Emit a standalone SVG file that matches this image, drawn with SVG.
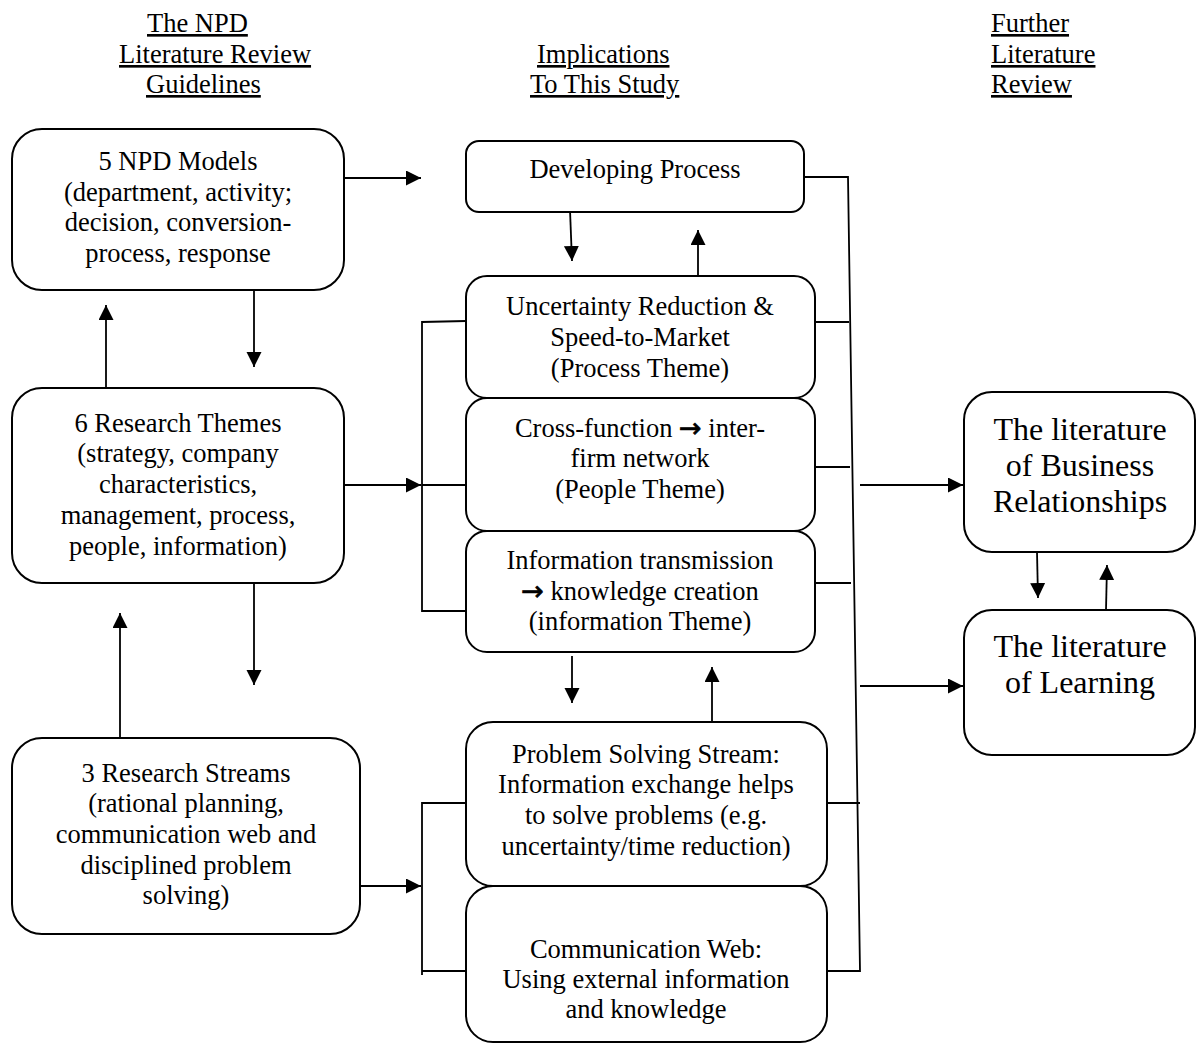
<svg xmlns="http://www.w3.org/2000/svg" width="1202" height="1045" viewBox="0 0 1202 1045">
  <style>
    text { font-family: "Liberation Serif", "Times New Roman", serif; fill: #000; }
    .hd { font-size: 26.5px; text-decoration: underline; }
    .t { font-size: 26.5px; text-anchor: middle; }
    .tl { font-size: 32px; text-anchor: middle; }
    .sym { font-family: "DejaVu Sans", sans-serif; font-size: 27px; stroke: #000; stroke-width: 0.7; }
    .box { fill: #fff; stroke: #000; stroke-width: 2; }
    .ln { fill: none; stroke: #000; stroke-width: 1.8; }
    .ar { fill: none; stroke: #000; stroke-width: 1.8; marker-end: url(#head); }
  </style>
  <defs>
    <marker id="head" markerUnits="userSpaceOnUse" markerWidth="16" markerHeight="16" refX="15" refY="7.5" orient="auto">
      <path d="M0,0 L15,7.5 L0,15 Z" fill="#000"/>
    </marker>
  </defs>

  <!-- column headings -->
  <g id="headings">
    <text class="hd" x="147" y="32">The NPD</text>
    <text class="hd" x="119" y="63">Literature Review</text>
    <text class="hd" x="146" y="93">Guidelines</text>
    <text class="hd" x="537" y="63">Implications</text>
    <text class="hd" x="530" y="93">To This Study</text>
    <text class="hd" x="991" y="32">Further</text>
    <text class="hd" x="991" y="63">Literature</text>
    <text class="hd" x="991" y="93">Review</text>
  </g>

  <!-- connectors -->
  <g id="connectors">
    <line class="ar" x1="344" y1="178" x2="421" y2="178"/>
    <line class="ar" x1="254" y1="290" x2="254" y2="367"/>
    <line class="ar" x1="106" y1="388" x2="106" y2="305"/>
    <line class="ar" x1="344" y1="485" x2="421" y2="485"/>
    <line class="ar" x1="254" y1="583" x2="254" y2="685"/>
    <line class="ar" x1="120" y1="738" x2="120" y2="613"/>
    <line class="ar" x1="360" y1="886" x2="421" y2="886"/>

    <!-- left brackets into the middle column -->
    <path class="ln" d="M466,321 L422,322 L422,611 L466,611"/>
    <line class="ln" x1="422" y1="485" x2="466" y2="485"/>
    <path class="ln" d="M466,803 L422,803 L422,975"/>
    <line class="ln" x1="422" y1="971" x2="466" y2="971"/>

    <!-- links inside the middle column -->
    <line class="ar" x1="570" y1="210" x2="572" y2="261"/>
    <line class="ar" x1="698" y1="276" x2="698" y2="230"/>
    <line class="ar" x1="572" y1="656" x2="572" y2="703"/>
    <line class="ar" x1="712" y1="722" x2="712" y2="667"/>

    <!-- right collector line -->
    <path class="ln" d="M804,177 L848,177 L860,971 L827,971"/>
    <line class="ln" x1="815" y1="322" x2="849" y2="322"/>
    <line class="ln" x1="815" y1="467" x2="850" y2="467"/>
    <line class="ln" x1="815" y1="583" x2="851" y2="583"/>
    <line class="ln" x1="827" y1="803" x2="860" y2="803"/>

    <line class="ar" x1="860" y1="485" x2="963" y2="485"/>
    <line class="ar" x1="860" y1="686" x2="963" y2="686"/>

    <line class="ar" x1="1037" y1="552" x2="1038" y2="598"/>
    <line class="ar" x1="1106" y1="610" x2="1107" y2="565"/>
  </g>

  <!-- left column -->
  <g id="npd-models">
    <rect class="box" x="12" y="129" width="332" height="161" rx="30"/>
    <text class="t" x="178" y="170">5 NPD Models</text>
    <text class="t" x="178" y="201">(department, activity;</text>
    <text class="t" x="178" y="231">decision, conversion-</text>
    <text class="t" x="178" y="262">process, response</text>
  </g>

  <g id="research-themes">
    <rect class="box" x="12" y="388" width="332" height="195" rx="30"/>
    <text class="t" x="178" y="432">6 Research Themes</text>
    <text class="t" x="178" y="462">(strategy, company</text>
    <text class="t" x="178" y="493">characteristics,</text>
    <text class="t" x="178" y="524">management, process,</text>
    <text class="t" x="178" y="555">people, information)</text>
  </g>

  <g id="research-streams">
    <rect class="box" x="12" y="738" width="348" height="196" rx="30"/>
    <text class="t" x="186" y="782">3 Research Streams</text>
    <text class="t" x="186" y="812">(rational planning,</text>
    <text class="t" x="186" y="843">communication web and</text>
    <text class="t" x="186" y="874">disciplined problem</text>
    <text class="t" x="186" y="904">solving)</text>
  </g>

  <!-- middle column -->
  <g id="developing-process">
    <rect class="box" x="466" y="141" width="338" height="71" rx="13"/>
    <text class="t" x="635" y="178">Developing Process</text>
  </g>

  <g id="process-theme">
    <rect class="box" x="466" y="276" width="349" height="122" rx="21"/>
    <text class="t" x="640" y="315">Uncertainty Reduction &amp;</text>
    <text class="t" x="640" y="346">Speed-to-Market</text>
    <text class="t" x="640" y="377">(Process Theme)</text>
  </g>

  <g id="people-theme">
    <rect class="box" x="466" y="398" width="349" height="133" rx="21"/>
    <text class="t" x="640" y="437">Cross-function <tspan class="sym">→</tspan> inter-</text>
    <text class="t" x="640" y="467">firm network</text>
    <text class="t" x="640" y="498">(People Theme)</text>
  </g>

  <g id="information-theme">
    <rect class="box" x="466" y="531" width="349" height="121" rx="21"/>
    <text class="t" x="640" y="569">Information transmission</text>
    <text class="t" x="640" y="600"><tspan class="sym">→</tspan> knowledge creation</text>
    <text class="t" x="640" y="630">(information Theme)</text>
  </g>

  <g id="problem-solving">
    <rect class="box" x="466" y="722" width="361" height="164" rx="27"/>
    <text class="t" x="646" y="763">Problem Solving Stream:</text>
    <text class="t" x="646" y="793">Information exchange helps</text>
    <text class="t" x="646" y="824">to solve problems (e.g.</text>
    <text class="t" x="646" y="855">uncertainty/time reduction)</text>
  </g>

  <g id="communication-web">
    <rect class="box" x="466" y="886" width="361" height="156" rx="27"/>
    <text class="t" x="646" y="958">Communication Web:</text>
    <text class="t" x="646" y="988">Using external information</text>
    <text class="t" x="646" y="1018">and knowledge</text>
  </g>

  <!-- right column -->
  <g id="business-relationships">
    <rect class="box" x="964" y="392" width="231" height="160" rx="28"/>
    <text class="tl" x="1080" y="440">The literature</text>
    <text class="tl" x="1080" y="476">of Business</text>
    <text class="tl" x="1080" y="512">Relationships</text>
  </g>

  <g id="learning">
    <rect class="box" x="964" y="610" width="231" height="145" rx="28"/>
    <text class="tl" x="1080" y="657">The literature</text>
    <text class="tl" x="1080" y="693">of Learning</text>
  </g>
</svg>
